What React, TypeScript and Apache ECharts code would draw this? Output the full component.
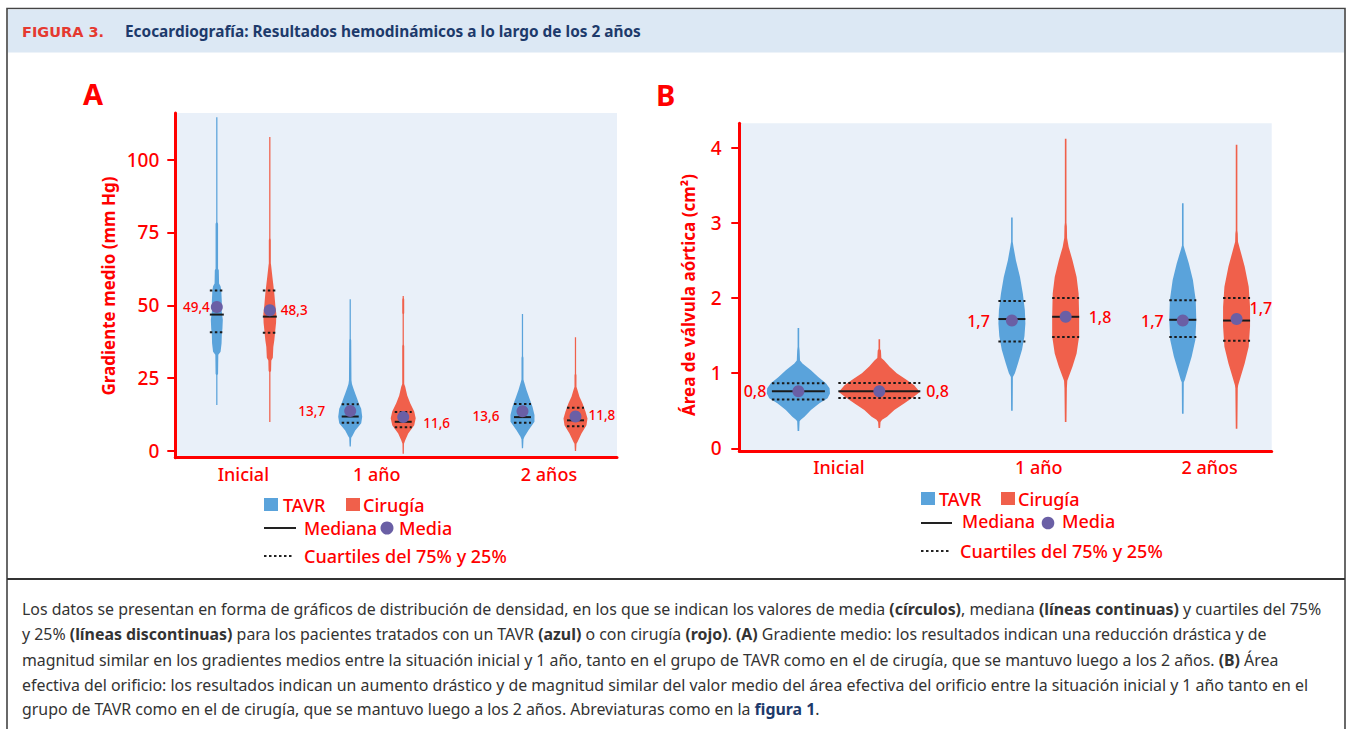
import React, { useEffect, useRef } from "react";
import * as echarts from "echarts";

// ---------- DATA ----------
const categories = ["Inicial", "1 año", "2 años"];
const groupNames = ["TAVR", "Cirugía"];

// Panel A: gradiente medio (mm Hg)
const gradTicks = [0, 25, 50, 75, 100];
const gradMeanTAVR = [49.4, 13.7, 13.6];
const gradMeanSurg = [48.3, 11.6, 11.8];
const gradMedianTAVR = [46.8, 11.8, 11.6];
const gradMedianSurg = [46.1, 10.0, 10.5];
const gradQ1TAVR = [40.7, 9.7, 9.7];
const gradQ3TAVR = [55.1, 16.0, 16.1];
const gradQ1Surg = [40.6, 8.1, 8.5];
const gradQ3Surg = [55.1, 13.4, 14.8];
// density profiles: [value, relative density]
const gradDensityTAVR = [
  [[15.8, 0.05], [26, 0.05], [26.5, 0.1], [33, 0.12], [34, 0.3], [37, 0.38], [40, 0.4], [42, 0.45], [45, 0.48], [47, 0.42], [49, 0.36], [51, 0.4], [53, 0.38], [55, 0.36], [56.5, 0.3], [57.5, 0.18], [62, 0.16], [62.5, 0.1], [78, 0.1], [78.5, 0.05], [114.5, 0.05]],
  [[1.5, 0.05], [4.5, 0.08], [5, 0.16], [7, 0.4], [9.5, 0.88], [11.7, 0.96], [13, 0.92], [14.5, 0.88], [16.4, 0.68], [18, 0.55], [19.7, 0.4], [21.5, 0.25], [23, 0.14], [24.3, 0.1], [38, 0.08], [38.5, 0.05], [52.1, 0.05]],
  [[0.9, 0.05], [4, 0.08], [4.9, 0.16], [7.1, 0.48], [10, 0.96], [12.3, 0.96], [15.2, 0.8], [18, 0.56], [20.9, 0.32], [23.8, 0.12], [24.5, 0.08], [32, 0.08], [32.5, 0.05], [47, 0.05]],
];
const gradDensitySurg = [
  [[9.9, 0.05], [27, 0.05], [27.5, 0.1], [31, 0.12], [32, 0.24], [35.7, 0.28], [38, 0.36], [41.5, 0.44], [44, 0.5], [47, 0.52], [50, 0.44], [54, 0.36], [57, 0.28], [60, 0.2], [63.8, 0.1], [64.4, 0.08], [72.4, 0.08], [73, 0.05], [107.8, 0.05]],
  [[-1, 0.05], [2.5, 0.06], [3.7, 0.16], [6, 0.4], [8.8, 0.88], [11.2, 1.0], [13.5, 0.88], [16.4, 0.56], [19, 0.32], [22, 0.16], [23, 0.08], [36, 0.08], [36.5, 0.05], [47, 0.05], [47.3, 0.08], [52, 0.08], [52.5, 0.05], [53.2, 0.05]],
  [[0, 0.05], [2.5, 0.08], [3.1, 0.16], [6, 0.48], [8.8, 0.88], [11.1, 0.96], [13.5, 0.8], [16.4, 0.56], [18.6, 0.32], [20.9, 0.16], [22, 0.08], [26, 0.08], [26.5, 0.05], [39, 0.05]],
];

// Panel B: área de válvula aórtica (cm²)
const areaTicks = [0, 1, 2, 3, 4];
const areaMeanTAVR = [0.76, 1.7, 1.7];
const areaMeanSurg = [0.76, 1.75, 1.72];
const areaMedianTAVR = [0.76, 1.72, 1.71];
const areaMedianSurg = [0.76, 1.75, 1.7];
const areaQ1TAVR = [0.65, 1.42, 1.48];
const areaQ3TAVR = [0.865, 1.96, 1.97];
const areaQ1Surg = [0.67, 1.48, 1.43];
const areaQ3Surg = [0.87, 2.0, 2.0];
const areaDensityTAVR = [
  [[0.23, 0.02], [0.36, 0.03], [0.38, 0.06], [0.42, 0.15], [0.51, 0.31], [0.6, 0.52], [0.665, 0.72], [0.73, 0.78], [0.8, 0.77], [0.865, 0.68], [0.95, 0.49], [1.04, 0.31], [1.13, 0.1], [1.17, 0.04], [1.3, 0.03], [1.35, 0.02], [1.6, 0.02]],
  [[0.5, 0.02], [0.95, 0.025], [1.0, 0.074], [1.13, 0.15], [1.31, 0.25], [1.49, 0.31], [1.66, 0.333], [1.84, 0.32], [2.06, 0.27], [2.28, 0.2], [2.5, 0.1], [2.68, 0.04], [2.75, 0.02], [3.07, 0.02]],
  [[0.46, 0.02], [0.88, 0.025], [0.91, 0.05], [1.04, 0.12], [1.22, 0.22], [1.44, 0.31], [1.71, 0.333], [1.97, 0.32], [2.24, 0.25], [2.46, 0.15], [2.64, 0.05], [2.7, 0.02], [3.26, 0.02]],
];
const areaDensitySurg = [
  [[0.27, 0.02], [0.35, 0.03], [0.38, 0.07], [0.42, 0.19], [0.51, 0.37], [0.6, 0.62], [0.69, 0.86], [0.75, 1.0], [0.84, 0.86], [0.91, 0.68], [1.0, 0.43], [1.09, 0.25], [1.17, 0.12], [1.2, 0.05], [1.3, 0.04], [1.32, 0.02], [1.45, 0.02]],
  [[0.35, 0.02], [0.8, 0.03], [0.9, 0.04], [0.95, 0.074], [1.09, 0.17], [1.26, 0.27], [1.49, 0.333], [1.75, 0.333], [2.06, 0.32], [2.28, 0.27], [2.5, 0.17], [2.68, 0.074], [2.8, 0.035], [2.95, 0.03], [3.0, 0.02], [4.12, 0.02]],
  [[0.26, 0.02], [0.8, 0.03], [0.84, 0.04], [0.95, 0.1], [1.13, 0.2], [1.35, 0.3], [1.62, 0.333], [1.88, 0.333], [2.15, 0.3], [2.42, 0.2], [2.62, 0.1], [2.75, 0.035], [2.86, 0.03], [2.9, 0.02], [4.04, 0.02]],
];

const captionLines = [
  "Los datos se presentan en forma de gráficos de distribución de densidad, en los que se indican los valores de media {b|(círculos)}, mediana {b|(líneas continuas)} y cuartiles del 75%",
  "y 25% {b|(líneas discontinuas)} para los pacientes tratados con un TAVR {b|(azul)} o con cirugía {b|(rojo)}. {b|(A)} Gradiente medio: los resultados indican una reducción drástica y de",
  "magnitud similar en los gradientes medios entre la situación inicial y 1 año, tanto en el grupo de TAVR como en el de cirugía, que se mantuvo luego a los 2 años. {b|(B)} Área",
  "efectiva del orificio: los resultados indican un aumento drástico y de magnitud similar del valor medio del área efectiva del orificio entre la situación inicial y 1 año tanto en el",
  "grupo de TAVR como en el de cirugía, que se mantuvo luego a los 2 años. Abreviaturas como en la {l|figura 1}.",
];

// ---------- LAYOUT / STYLE ----------
const RED = "#ff0000";
const BLUE = "#5aa3db";
const ORANGE = "#f0604b";
const PURPLE = "#6a5fa5";
const PLOT_BG = "#e9f0f9";
const FONT = '"Noto Sans", sans-serif';
const MED = 500;

const centersA = [15.4, 45.6, 84.6];
const offsetsA = [6, 6, 6];
const centersB = [18.7, 56.25, 88.35];
const offsetsB = [7.6, 5.05, 5.05];
const scaleA = 12.5; // px per density unit
const scaleB = 40.5;
const lineHalfA = { TAVR: [7, 8.5, 8.5], Surg: [7, 8.5, 8.5] };
const lineHalfB = { TAVR: [26.5, 13.5, 13.5], Surg: [41, 13.5, 13.5] };
const labelA = {
  TAVR: [{ p: "left", d: 1, dy: 0 }, { p: "left", d: 19, dy: 0 }, { p: "left", d: 17, dy: 4.6 }],
  Surg: [{ p: "right", d: 5, dy: 0 }, { p: "right", d: 14, dy: 5.5 }, { p: "right", d: 7, dy: -2 }],
};
const labelB = {
  TAVR: [{ p: "left", d: 26, dy: 0 }, { p: "left", d: 16, dy: 0 }, { p: "left", d: 13, dy: 0 }],
  Surg: [{ p: "right", d: 41, dy: 0 }, { p: "right", d: 17, dy: 0 }, { p: "right", d: 7, dy: -11 }],
};

const fmt = (v: number) => v.toFixed(1).replace(".", ",");

function violinSeries(gi: number, color: string, dens: number[][][], med: number[], q1: number[], q3: number[], xs: number[], scale: number, half: number[]) {
  return {
    type: "custom",
    xAxisIndex: gi,
    yAxisIndex: gi,
    clip: false,
    z: 2,
    silent: true,
    data: xs.map((x, i) => [x, med[i]]),
    renderItem: (params: any, api: any) => {
      const i = params.dataIndex;
      const x = api.value(0);
      const prof = dens[i];
      const right = prof.map(([v, d]) => {
        const p = api.coord([x, v]);
        return [p[0] + d * scale, p[1]];
      });
      const left = prof
        .slice()
        .reverse()
        .map(([v, d]) => {
          const p = api.coord([x, v]);
          return [p[0] - d * scale, p[1]];
        });
      const hw = half[i];
      const hline = (v: number, dashed: boolean) => {
        const p = api.coord([x, v]);
        return {
          type: "line",
          shape: { x1: p[0] - hw, y1: p[1], x2: p[0] + hw, y2: p[1] },
          style: { stroke: "#1a1a1a", lineWidth: 2, lineDash: dashed ? [2.5, 2.5] : null },
        };
      };
      return {
        type: "group",
        children: [
          { type: "polygon", shape: { points: right.concat(left) }, style: { fill: color } },
          hline(q1[i], true),
          hline(q3[i], true),
          hline(med[i], false),
        ],
      };
    },
  };
}

function meanSeries(gi: number, means: number[], xs: number[], labels: any[], fontSize: number) {
  return {
    type: "scatter",
    xAxisIndex: gi,
    yAxisIndex: gi,
    z: 5,
    symbol: "circle",
    symbolSize: 12,
    itemStyle: { color: PURPLE, opacity: 1 },
    silent: true,
    data: xs.map((x, i) => ({
      value: [x, means[i]],
      label: {
        show: true,
        position: labels[i].p,
        distance: labels[i].d,
        offset: [0, labels[i].dy],
        formatter: fmt(means[i]),
        color: RED,
        fontSize,
        fontWeight: MED,
        fontFamily: FONT,
      },
    })),
  };
}

function txt(x: number, y: number, text: string, size: number, extra: any = {}) {
  return {
    type: "text",
    x,
    y,
    silent: true,
    style: {
      text,
      fontSize: size,
      fontFamily: FONT,
      fontWeight: MED,
      fill: RED,
      align: "left",
      verticalAlign: "middle",
      ...extra,
    },
  };
}

function buildOption() {
  const xsA = (g: number) => centersA.map((c, i) => c + (g === 0 ? -offsetsA[i] : offsetsA[i]));
  const xsB = (g: number) => centersB.map((c, i) => c + (g === 0 ? -offsetsB[i] : offsetsB[i]));

  const xAxisCommon = (centers: number[]) => ({
    type: "value",
    min: 0,
    max: 100,
    axisLine: { show: true, onZero: false, lineStyle: { color: RED, width: 3 } },
    axisTick: { show: false },
    splitLine: { show: false },
    axisLabel: {
      customValues: centers,
      formatter: (v: number) => {
        const i = centers.findIndex((c) => Math.abs(c - v) < 1e-6);
        return i >= 0 ? categories[i] : "";
      },
      color: RED,
      fontSize: 18,
      fontWeight: MED,
      fontFamily: FONT,
      margin: 7,
    },
  });
  const yAxisCommon = (min: number, max: number, ticks: number[], margin: number) => ({
    type: "value",
    min,
    max,
    axisLine: { show: true, onZero: false, lineStyle: { color: RED, width: 3 } },
    axisTick: { show: true, customValues: ticks, length: 8, lineStyle: { color: RED, width: 2 } },
    splitLine: { show: false },
    axisLabel: { customValues: ticks, color: RED, fontSize: 19, fontWeight: MED, fontFamily: FONT, margin },
  });

  const graphics: any[] = [
    { type: "rect", z: -10, shape: { x: 7, y: 8.5, width: 1338, height: 730 }, style: { fill: "#fff", stroke: "#444", lineWidth: 1.6 } },
    { type: "rect", shape: { x: 8, y: 9.5, width: 1336, height: 43 }, style: { fill: "#dce8f4" } },
    { type: "line", shape: { x1: 7, y1: 579, x2: 1345, y2: 579 }, style: { stroke: "#333", lineWidth: 2 } },
    txt(22, 31.5, "FIGURA 3.", 14.5, { fontWeight: "bold", fill: "#e5392f", fontFamily: '"DejaVu Sans", sans-serif' }),
    txt(125, 31.5, "Ecocardiografía: Resultados hemodinámicos a lo largo de los 2 años", 15.4, { fontWeight: "bold", fill: "#1d3a6b" }),
    txt(83, 93, "A", 29, { fontWeight: "bold" }),
    txt(656, 94, "B", 29, { fontWeight: "bold" }),
    {
      type: "text",
      x: 108,
      y: 286,
      rotation: Math.PI / 2,
      silent: true,
      style: { text: "Gradiente medio (mm Hg)", fontSize: 17, fontWeight: "bold", fontFamily: FONT, fill: RED, align: "center", verticalAlign: "middle" },
    },
    {
      type: "text",
      x: 688,
      y: 295,
      rotation: Math.PI / 2,
      silent: true,
      style: { text: "Área de válvula aórtica (cm²)", fontSize: 17, fontWeight: "bold", fontFamily: FONT, fill: RED, align: "center", verticalAlign: "middle" },
    },
    // Legend A
    { type: "rect", shape: { x: 264, y: 498, width: 14, height: 13 }, style: { fill: BLUE } },
    txt(283, 504.5, groupNames[0], 18),
    { type: "rect", shape: { x: 346, y: 498, width: 14, height: 13 }, style: { fill: ORANGE } },
    txt(363, 504.5, groupNames[1], 18),
    { type: "line", shape: { x1: 264, y1: 528, x2: 296, y2: 528 }, style: { stroke: "#222", lineWidth: 2 } },
    txt(304, 528, "Mediana", 17.6),
    { type: "circle", shape: { cx: 387, cy: 528, r: 6.5 }, style: { fill: PURPLE } },
    txt(399, 528, "Media", 18),
    { type: "line", shape: { x1: 264, y1: 556, x2: 294, y2: 556 }, style: { stroke: "#222", lineWidth: 2, lineDash: [2.5, 2.5] } },
    txt(304, 556, "Cuartiles del 75% y 25%", 18),
    // Legend B
    { type: "rect", shape: { x: 921, y: 492, width: 14, height: 13 }, style: { fill: BLUE } },
    txt(939, 498.5, groupNames[0], 18),
    { type: "rect", shape: { x: 1001, y: 492, width: 14, height: 13 }, style: { fill: ORANGE } },
    txt(1018, 498.5, groupNames[1], 18),
    { type: "line", shape: { x1: 921, y1: 523, x2: 952, y2: 523 }, style: { stroke: "#222", lineWidth: 2 } },
    txt(962, 521, "Mediana", 17.6),
    { type: "circle", shape: { cx: 1048, cy: 523, r: 6.3 }, style: { fill: PURPLE } },
    txt(1062, 521, "Media", 18),
    { type: "line", shape: { x1: 921, y1: 551, x2: 951, y2: 551 }, style: { stroke: "#222", lineWidth: 2, lineDash: [2.5, 2.5] } },
    txt(960, 551, "Cuartiles del 75% y 25%", 18),
  ];
  const captionY = [609, 634, 659.5, 684.5, 709];
  captionLines.forEach((line, i) => {
    graphics.push({
      type: "text",
      x: 22,
      y: captionY[i],
      silent: true,
      style: {
        text: line,
        fontSize: 15.9,
        fontFamily: FONT,
        fill: "#333",
        align: "left",
        verticalAlign: "middle",
        rich: {
          b: { fontSize: 15.9, fontFamily: FONT, fontWeight: "bold", fill: "#333" },
          l: { fontSize: 15.9, fontFamily: FONT, fontWeight: "bold", fill: "#1d3a6b" },
        },
      },
    });
  });

  return {
    animation: false,
    backgroundColor: "#ffffff",
    grid: [
      { left: 175.3, top: 113, width: 441.7, height: 344.7, show: true, backgroundColor: PLOT_BG, borderWidth: 0, containLabel: false, outerBoundsMode: "none" },
      { left: 739.3, top: 123.3, width: 532.4, height: 327.7, show: true, backgroundColor: PLOT_BG, borderWidth: 0, containLabel: false, outerBoundsMode: "none" },
    ],
    xAxis: [
      { gridIndex: 0, ...xAxisCommon(centersA) },
      { gridIndex: 1, ...xAxisCommon(centersB) },
    ],
    yAxis: [
      { gridIndex: 0, ...yAxisCommon(-2.33, 116.0, gradTicks, 16) },
      { gridIndex: 1, ...yAxisCommon(-0.036, 4.325, areaTicks, 17.6) },
    ],
    graphic: { elements: graphics },
    series: [
      violinSeries(0, BLUE, gradDensityTAVR, gradMedianTAVR, gradQ1TAVR, gradQ3TAVR, xsA(0), scaleA, lineHalfA.TAVR),
      violinSeries(0, ORANGE, gradDensitySurg, gradMedianSurg, gradQ1Surg, gradQ3Surg, xsA(1), scaleA, lineHalfA.Surg),
      meanSeries(0, gradMeanTAVR, xsA(0), labelA.TAVR, 13.5),
      meanSeries(0, gradMeanSurg, xsA(1), labelA.Surg, 13.5),
      violinSeries(1, BLUE, areaDensityTAVR, areaMedianTAVR, areaQ1TAVR, areaQ3TAVR, xsB(0), scaleB, lineHalfB.TAVR),
      violinSeries(1, ORANGE, areaDensitySurg, areaMedianSurg, areaQ1Surg, areaQ3Surg, xsB(1), scaleB, lineHalfB.Surg),
      meanSeries(1, areaMeanTAVR, xsB(0), labelB.TAVR, 16),
      meanSeries(1, areaMeanSurg, xsB(1), labelB.Surg, 16),
    ],
  };
}

export default function App() {
  const ref = useRef<HTMLDivElement>(null);
  useEffect(() => {
    document.body.style.margin = "0";
    if (!ref.current) return;
    const chart = echarts.init(ref.current, undefined, { renderer: "svg" });
    chart.setOption(buildOption() as any);
    return () => chart.dispose();
  }, []);
  return <div ref={ref} style={{ position: "fixed", left: 0, top: 0, width: 1350, height: 729 }} />;
}
